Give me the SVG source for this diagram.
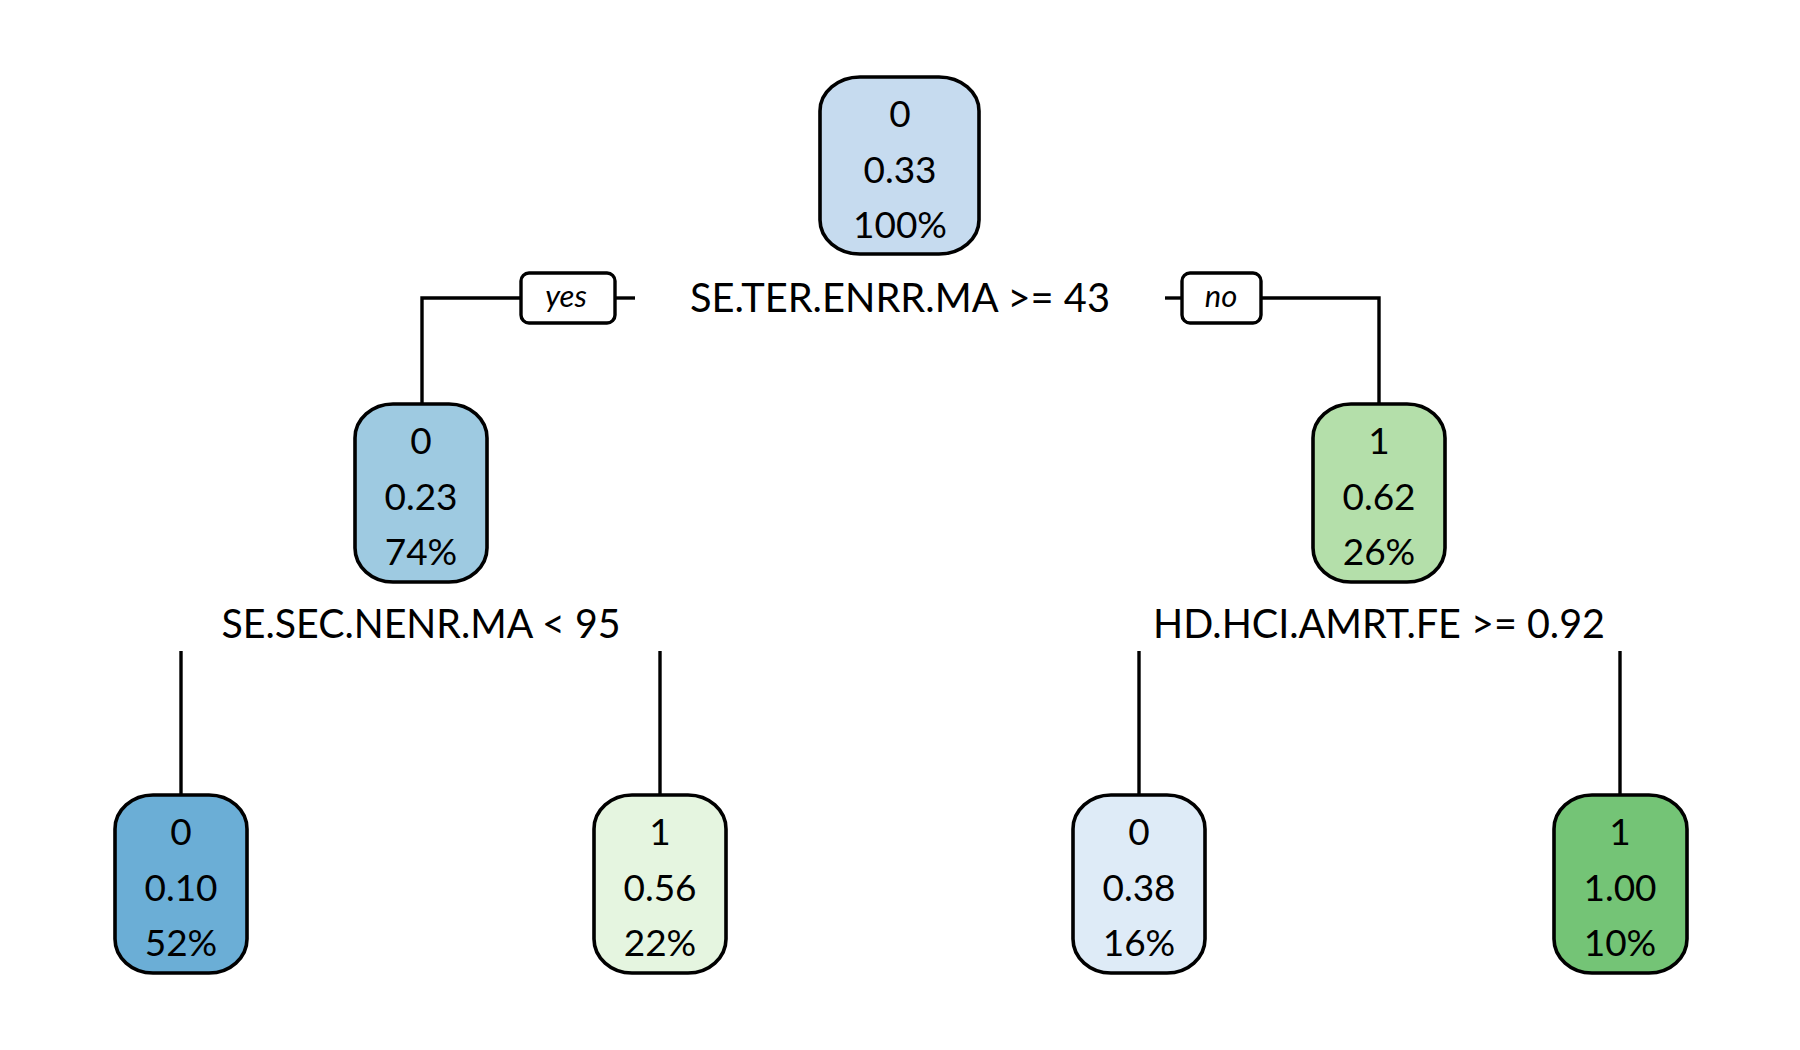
<svg xmlns="http://www.w3.org/2000/svg" width="1800" height="1050" viewBox="0 0 1800 1050">
<style>
.box{stroke:#000;stroke-width:3.6}
.t{font-family:Lato,"Open Sans","Liberation Sans",sans-serif;font-size:37px;fill:#000;text-anchor:middle}
.c{font-family:Lato,"Open Sans","Liberation Sans",sans-serif;font-size:41px;fill:#000;text-anchor:middle}
.yn{font-family:Lato,"Open Sans","Liberation Sans",sans-serif;font-size:31px;font-style:italic;fill:#000;text-anchor:middle}
.ln{fill:none;stroke:#000;stroke-width:3.4}
.lb{fill:#fff;stroke:#000;stroke-width:3.4}
</style>
<rect width="1800" height="1050" fill="#fff"/>
<g id="connectors">
<path class="ln" d="M422 404 V298 H521"/>
<path class="ln" d="M615 298 H635"/>
<path class="ln" d="M1165 298 H1182"/>
<path class="ln" d="M1261 298 H1379 V404"/>
<path class="ln" d="M181 651 V795"/>
<path class="ln" d="M660 651 V795"/>
<path class="ln" d="M1139 651 V795"/>
<path class="ln" d="M1620 651 V795"/>
<rect class="lb" x="521" y="273" width="94" height="50" rx="8"/>
<text class="yn" x="566" y="307">yes</text>
<rect class="lb" x="1182" y="273" width="79" height="50" rx="8"/>
<text class="yn" x="1221" y="307">no</text>
</g>
<g id="labels">
<text class="c" x="900" y="312" textLength="420" lengthAdjust="spacingAndGlyphs">SE.TER.ENRR.MA &gt;= 43</text>
<text class="c" x="421" y="638" textLength="399" lengthAdjust="spacingAndGlyphs">SE.SEC.NENR.MA &lt; 95</text>
<text class="c" x="1379" y="638" textLength="452" lengthAdjust="spacingAndGlyphs">HD.HCI.AMRT.FE &gt;= 0.92</text>
</g>
<g id="node1">
<rect class="box" x="820" y="77" width="159" height="177" rx="40" ry="34" fill="#C6DBEF"/>
<text class="t" x="900" y="127">0</text>
<text class="t" x="900" y="183">0.33</text>
<text class="t" x="900" y="238">100%</text>
</g>
<g id="node2">
<rect class="box" x="355" y="404" width="132" height="178" rx="38" ry="34" fill="#9ECAE1"/>
<text class="t" x="421" y="454">0</text>
<text class="t" x="421" y="510">0.23</text>
<text class="t" x="421" y="565">74%</text>
</g>
<g id="node3">
<rect class="box" x="1313" y="404" width="132" height="178" rx="38" ry="34" fill="#B4DFAA"/>
<text class="t" x="1379" y="454">1</text>
<text class="t" x="1379" y="510">0.62</text>
<text class="t" x="1379" y="565">26%</text>
</g>
<g id="node4">
<rect class="box" x="115" y="795" width="132" height="178" rx="38" ry="34" fill="#6BAED6"/>
<text class="t" x="181" y="845">0</text>
<text class="t" x="181" y="901">0.10</text>
<text class="t" x="181" y="956">52%</text>
</g>
<g id="node5">
<rect class="box" x="594" y="795" width="132" height="178" rx="38" ry="34" fill="#E5F5E0"/>
<text class="t" x="660" y="845">1</text>
<text class="t" x="660" y="901">0.56</text>
<text class="t" x="660" y="956">22%</text>
</g>
<g id="node6">
<rect class="box" x="1073" y="795" width="132" height="178" rx="38" ry="34" fill="#DEEBF7"/>
<text class="t" x="1139" y="845">0</text>
<text class="t" x="1139" y="901">0.38</text>
<text class="t" x="1139" y="956">16%</text>
</g>
<g id="node7">
<rect class="box" x="1554" y="795" width="133" height="178" rx="38" ry="34" fill="#74C476"/>
<text class="t" x="1620" y="845">1</text>
<text class="t" x="1620" y="901">1.00</text>
<text class="t" x="1620" y="956">10%</text>
</g>
</svg>
